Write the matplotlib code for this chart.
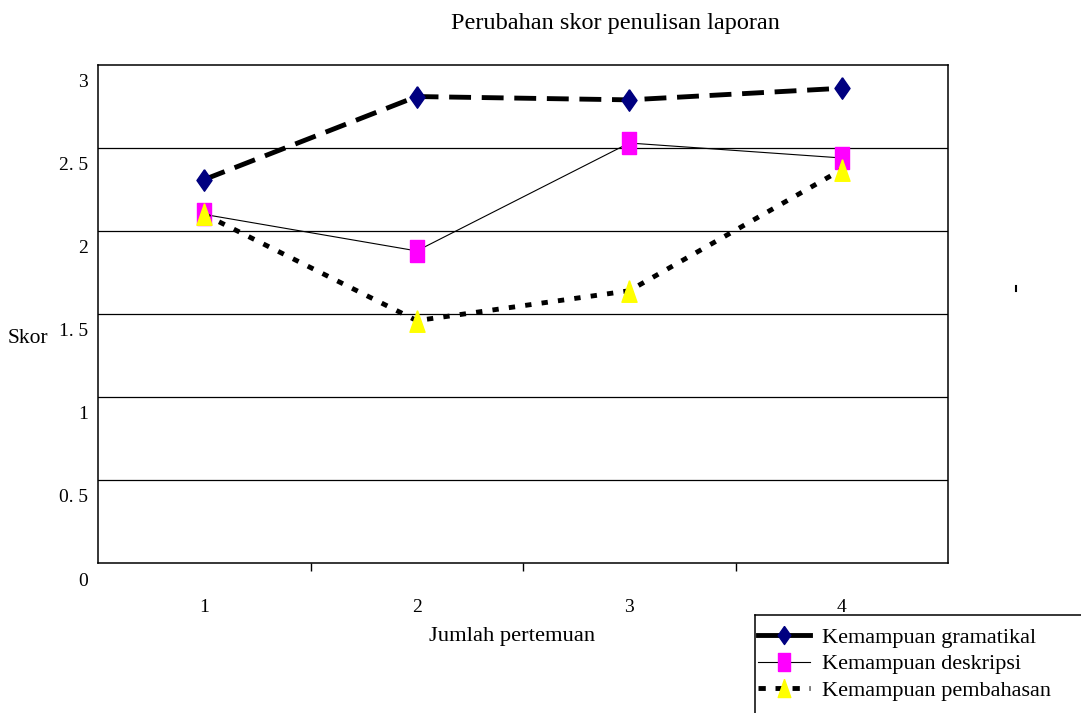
import matplotlib
matplotlib.use("Agg")
import matplotlib.pyplot as plt
import matplotlib.transforms as mtransforms
from matplotlib.lines import Line2D

# data
pertemuan = [1, 2, 3, 4]
gramatikal = [2.31, 2.81, 2.79, 2.86]
deskripsi = [2.10, 1.88, 2.53, 2.44]
pembahasan = [2.10, 1.46, 1.64, 2.37]
y_ticks = [0, 0.5, 1, 1.5, 2, 2.5, 3]
y_labels = ["0", "0. 5", "1", "1. 5", "2", "2. 5", "3"]

serif = ["Liberation Serif", "DejaVu Serif"]
plt.rcParams['font.family'] = serif

fig = plt.figure(figsize=(10.81, 7.13), dpi=100)
ax = fig.add_axes([98/1081, 1 - 563/713, 850/1081, 498/713])

# custom marker shapes (taller than wide, like the source)
diamond = [(0, 1), (0.7, 0), (0, -1), (-0.7, 0), (0, 1)]
rect = [(-0.64, -1), (0.64, -1), (0.64, 1), (-0.64, 1), (-0.64, -1)]
tri = [(0, 1), (0.7, -1), (-0.7, -1), (0, 1)]

ax.plot(pertemuan, gramatikal, color="black", lw=3.5, dashes=(4.5, 2.2),
        marker=diamond, ms=15.5, mfc="#000080", mec="#000080", zorder=3)
ax.plot(pertemuan, deskripsi, color="black", lw=0.8,
        marker=rect, ms=15.5, mfc="#ff00ff", mec="#ff00ff", zorder=4)
ax.plot(pertemuan, pembahasan, color="black", lw=3.5, dashes=(1.3, 2.1),
        marker=tri, ms=15.5, mfc="#ffff00", mec="#ffff00", zorder=5)

ax.set_xlim(0.5, 4.5)
ax.set_ylim(0, 3)
for y in y_ticks[1:-1]:
    ax.axhline(y, color="black", lw=0.9, zorder=1)
for s in ax.spines.values():
    s.set_linewidth(1.1)

ax.set_yticks(y_ticks)
ax.set_yticklabels(y_labels, fontsize=14)
ax.tick_params(axis="y", length=0, pad=7)
off = mtransforms.ScaledTranslation(0, -16/100, fig.dpi_scale_trans)
for lab in ax.get_yticklabels():
    lab.set_transform(lab.get_transform() + off)

ax.set_xticks(pertemuan)
ax.set_xticklabels([str(p) for p in pertemuan], fontsize=14)
ax.tick_params(axis="x", which="major", length=0, pad=26)
ax.set_xticks([1.5, 2.5, 3.5], minor=True)
ax.tick_params(axis="x", which="minor", length=6, direction="out", width=1)

fig.text(615/1081, 1 - 23/713, "Perubahan skor penulisan laporan",
         ha="center", va="center", fontsize=17.5)
fig.text(512/1081, 1 - 636/713, "Jumlah pertemuan", ha="center", va="center", fontsize=16.2)
fig.text(8/1081, 1 - 338/713, "Skor", ha="left", va="center", fontsize=15.5)

# small stray mark on the right
fig.add_artist(Line2D([1016/1081, 1016/1081], [1 - 286/713, 1 - 291/713],
                      color="black", lw=1.5))

# legend, box runs off the right and bottom of the figure
handles = [
    Line2D([], [], color="black", lw=3.5, marker=diamond, ms=13,
           mfc="#000080", mec="#000080"),
    Line2D([], [], color="black", lw=0.8, marker=rect, ms=13,
           mfc="#ff00ff", mec="#ff00ff"),
    Line2D([], [], color="black", lw=3.5, dashes=(1.5, 2.0), marker=tri, ms=13,
           mfc="#ffff00", mec="#ffff00"),
]
labels = ["Kemampuan gramatikal", "Kemampuan deskripsi", "Kemampuan pembahasan"]
fig.legend(handles, labels, loc="upper left",
           bbox_to_anchor=(758/1081, 1 - 627/713), fontsize=16,
           frameon=False, borderpad=0, handlelength=2.35, handletextpad=0.55,
           labelspacing=0.28, borderaxespad=0)
fig.add_artist(Line2D([755/1081, 755/1081], [1 - 615/713, 0], color="black", lw=1.1))
fig.add_artist(Line2D([755/1081, 1], [1 - 615/713, 1 - 615/713], color="black", lw=1.1))

fig.savefig("out.png", dpi=100)
